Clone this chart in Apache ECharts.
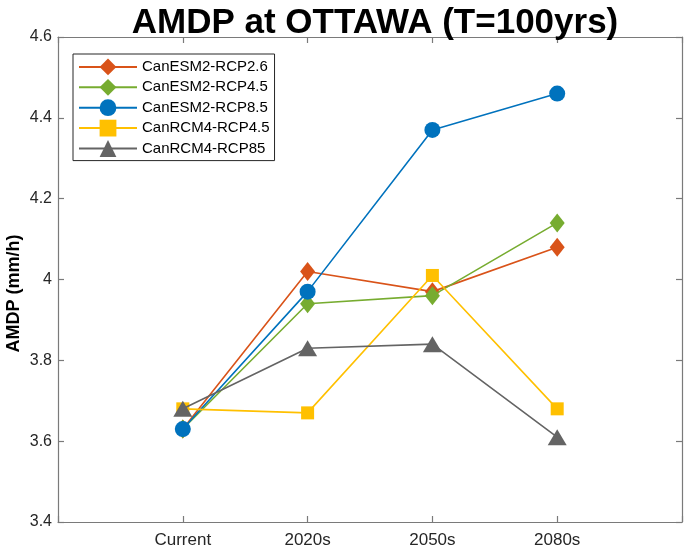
<!DOCTYPE html>
<html><head><meta charset="utf-8">
<script src="https://cdn.jsdelivr.net/npm/echarts@6/dist/echarts.min.js"></script>
<style>html,body{margin:0;padding:0;background:#fff}#c{width:685px;height:549px}</style>
</head><body><div id="c"></div>
<script>
const categories = ['Current', '2020s', '2050s', '2080s'];
const seriesNames = ['CanESM2-RCP2.6', 'CanESM2-RCP4.5', 'CanESM2-RCP8.5', 'CanRCM4-RCP4.5', 'CanRCM4-RCP85'];
const rcp26 = [3.63, 4.02, 3.97, 4.08];
const rcp45 = [3.63, 3.94, 3.96, 4.14];
const rcp85 = [3.63, 3.97, 4.37, 4.46];
const rcm45 = [3.68, 3.67, 4.01, 3.68];
const rcm85 = [3.68, 3.83, 3.84, 3.61];
const yTicks = [3.4, 3.6, 3.8, 4, 4.2, 4.4, 4.6];

const colors = ['#D95319', '#77AC30', '#0072BD', '#FFC000', '#646464'];
const symbols = ['diamond', 'diamond', 'circle', 'rect', 'triangle'];
const sizes = [[15, 19], [15, 19], 16, 13, [19, 16]];
const values = [rcp26, rcp45, rcp85, rcm45, rcm85];

const chart = echarts.init(document.getElementById('c'));
const font = 'Liberation Sans, Arial, sans-serif';
const axisLineStyle = {color: '#7a7a7a', width: 1.2};
const gridBase = {left: 58, right: 3, top: 37, bottom: 27};
chart.setOption({
  animation: false,
  title: {text: 'AMDP at OTTAWA (T=100yrs)', left: 370, textAlign: 'center', top: 1,
    textStyle: {fontFamily: font, fontSize: 35, fontWeight: 'bold', color: '#000'}},
  grid: Object.assign({outerBoundsMode: 'none', containLabel: false}, gridBase),
  legend: {
    orient: 'vertical', left: 73, top: 54, itemWidth: 58, itemHeight: 21, itemGap: 3.6,
    borderColor: '#262626', borderWidth: 1, padding: [4.5, 5, 3.7, 5], backgroundColor: '#fff',
    textStyle: {fontFamily: font, fontSize: 15, color: '#000', padding: [0, 0, 0, 0]},
    data: seriesNames
  },
  xAxis: [{
    type: 'value', min: 0, max: 5, interval: 1, position: 'bottom',
    axisLine: {onZero: false, lineStyle: axisLineStyle},
    axisTick: {inside: true, length: 6, lineStyle: axisLineStyle},
    splitLine: {show: false},
    axisLabel: {fontFamily: font, fontSize: 17, color: '#262626', margin: 10,
      formatter: v => (v >= 1 && v <= 4) ? categories[v - 1] : ''}
  }, {
    type: 'value', min: 0, max: 5, interval: 1, position: 'top',
    axisLine: {show: true, onZero: false, lineStyle: axisLineStyle},
    axisTick: {show: true, inside: true, length: 6, lineStyle: axisLineStyle},
    axisLabel: {show: false}, splitLine: {show: false}
  }],
  yAxis: [{
    type: 'value', min: 3.4, max: 4.6, interval: 0.2, position: 'left',
    name: 'AMDP (mm/h)', nameLocation: 'middle', nameGap: 35, nameMoveOverlap: false,
    nameTextStyle: {fontFamily: font, fontSize: 18, fontWeight: 'bold', color: '#000', padding: [0, 28, 0, 0]},
    axisLine: {show: true, onZero: false, lineStyle: axisLineStyle},
    axisTick: {inside: true, length: 6, lineStyle: axisLineStyle},
    splitLine: {show: false},
    axisLabel: {fontFamily: font, fontSize: 16, color: '#262626', margin: 6,
      formatter: v => { const t = yTicks.find(x => Math.abs(x - v) < 1e-6); return t === undefined ? '' : String(t); }}
  }, {
    type: 'value', min: 3.4, max: 4.6, interval: 0.2, position: 'right',
    axisLine: {show: true, onZero: false, lineStyle: axisLineStyle},
    axisTick: {show: true, inside: true, length: 6, lineStyle: axisLineStyle},
    axisLabel: {show: false}, splitLine: {show: false}
  }],
  series: seriesNames.map((n, i) => ({
    name: n, type: 'line', xAxisIndex: 0, yAxisIndex: 0,
    data: values[i].map((v, j) => [j + 1, v]),
    symbol: symbols[i], symbolSize: sizes[i],
    lineStyle: {color: colors[i], width: 1.6},
    itemStyle: {color: colors[i]},
    z: 2 + i
  }))
});
</script></body></html>
